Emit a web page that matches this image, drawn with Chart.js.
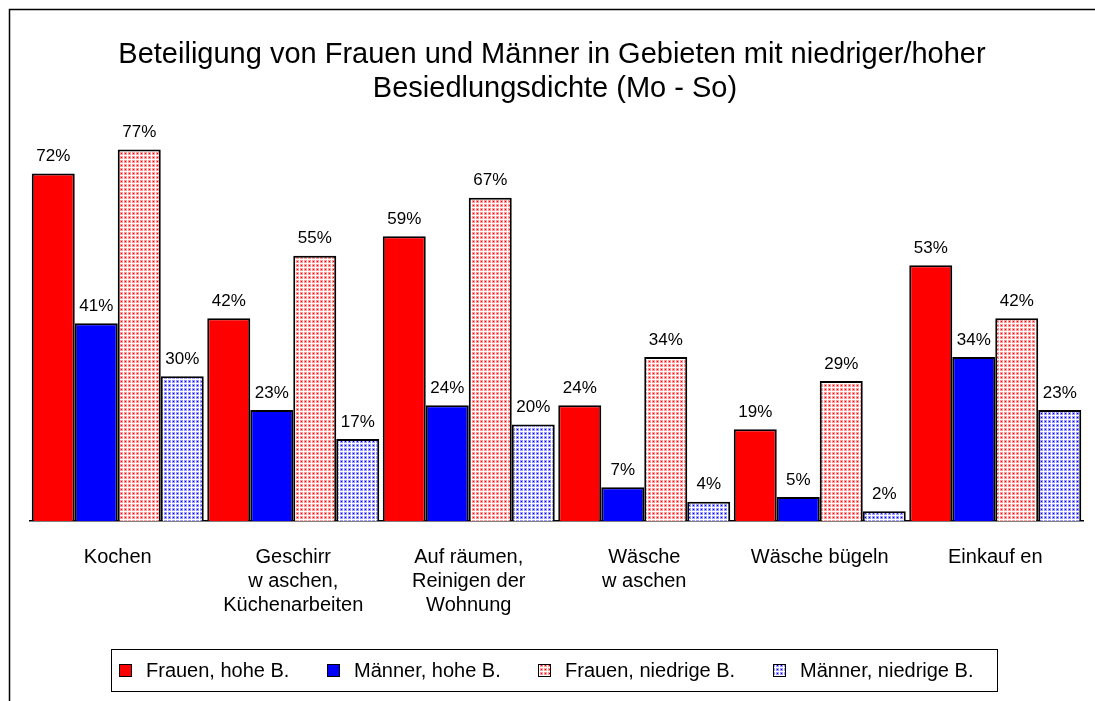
<!DOCTYPE html>
<html>
<head>
<meta charset="utf-8">
<script src="https://cdn.jsdelivr.net/npm/chart.js@4"></script>
<style>
  html, body { margin: 0; padding: 0; background: #fff; }
  canvas { display: block; }
</style>
</head>
<body>
<canvas id="chart" width="1095" height="701"></canvas>
<script>
/* ===== DATA ===== */
const TITLE_LINES = ['Beteiligung von Frauen und Männer in Gebieten mit niedriger/hoher', 'Besiedlungsdichte (Mo - So)'];
const CATEGORIES = [
  ['Kochen'],
  ['Geschirr', 'w aschen,', 'Küchenarbeiten'],
  ['Auf räumen,', 'Reinigen der', 'Wohnung'],
  ['Wäsche', 'w aschen'],
  ['Wäsche bügeln'],
  ['Einkauf en'],
];
const SERIES_NAMES = ['Frauen, hohe B.', 'Männer, hohe B.', 'Frauen, niedrige B.', 'Männer, niedrige B.'];
const FRAUEN_HOCH    = [72, 42, 59, 24, 19, 53];
const MAENNER_HOCH   = [41, 23, 24, 7, 5, 34];
const FRAUEN_NIEDRIG = [77, 55, 67, 34, 29, 42];
const MAENNER_NIEDRIG = [30, 17, 20, 4, 2, 23];

const FONT = "'Liberation Sans', Arial, sans-serif";

/* ===== PATTERNS ===== */
function dotPattern(dot, tint) {
  const c = document.createElement('canvas');
  c.width = 4; c.height = 4;
  const g = c.getContext('2d');
  g.fillStyle = '#ffffff';
  g.fillRect(0, 0, 4, 4);
  g.fillStyle = tint;
  g.fillRect(0, 0, 3, 3);
  g.fillStyle = dot;
  g.fillRect(1, 1, 1, 1);
  return g.createPattern(c, 'repeat');
}
const ctx = document.getElementById('chart').getContext('2d');
const PINK_DOTS = dotPattern('#ff0000', '#ff9a9a');
const BLUE_DOTS = dotPattern('#0000ff', '#9a9aff');

const FILLS = ['#ff0000', '#0000ff', PINK_DOTS, BLUE_DOTS];
const SERIES = [FRAUEN_HOCH, MAENNER_HOCH, FRAUEN_NIEDRIG, MAENNER_NIEDRIG];

/* ===== PLUGINS ===== */
const framePlugin = {
  id: 'frame',
  beforeDraw(chart) {
    const c = chart.ctx;
    c.save();
    c.fillStyle = '#fff';
    c.fillRect(0, 0, chart.width, chart.height);
    c.strokeStyle = '#000';
    c.lineWidth = 1.5;
    c.beginPath();
    c.moveTo(9.5, chart.height);
    c.lineTo(9.5, 9.5);
    c.lineTo(chart.width, 9.5);
    c.stroke();
    c.restore();
  },
};

const titlePlugin = {
  id: 'customTitle',
  afterDraw(chart) {
    const c = chart.ctx;
    c.save();
    c.fillStyle = '#000';
    c.font = `29px ${FONT}`;
    c.textAlign = 'center';
    c.textBaseline = 'alphabetic';
    c.fillText(TITLE_LINES[0], 552, 63);
    c.fillText(TITLE_LINES[1], 555, 97);
    c.restore();
  },
};

const valueLabels = {
  id: 'valueLabels',
  afterDatasetsDraw(chart) {
    const c = chart.ctx;
    c.save();
    c.font = `17px ${FONT}`;
    c.fillStyle = '#000';
    c.textAlign = 'center';
    c.textBaseline = 'middle';
    chart.data.datasets.forEach((ds, i) => {
      chart.getDatasetMeta(i).data.forEach((bar, j) => {
        c.fillText(ds.data[j] + '%', bar.x, bar.y - 17);
      });
    });
    c.restore();
  },
};

const boxedLegend = {
  id: 'boxedLegend',
  afterDraw(chart) {
    const c = chart.ctx;
    const box = { x: 111, y: 649, w: 886, h: 42 };
    const markerX = [119, 327, 538, 773];
    c.save();
    c.strokeStyle = '#000';
    c.lineWidth = 1;
    c.strokeRect(box.x + 0.5, box.y + 0.5, box.w, box.h);
    c.font = `20px ${FONT}`;
    c.textBaseline = 'middle';
    const cy = box.y + box.h / 2;
    chart.data.datasets.forEach((ds, i) => {
      c.fillStyle = ds.backgroundColor;
      c.fillRect(markerX[i], cy - 6, 12, 12);
      c.strokeRect(markerX[i] + 0.5, cy - 6 + 0.5, 12, 12);
      c.fillStyle = '#000';
      c.fillText(ds.label, markerX[i] + 27, cy + 1);
    });
    c.restore();
  },
};

/* ===== CHART ===== */
new Chart(ctx, {
  type: 'bar',
  data: {
    labels: CATEGORIES,
    datasets: SERIES.map((values, i) => ({
      label: SERIES_NAMES[i],
      data: values,
      backgroundColor: FILLS[i],
      borderColor: '#000',
      borderWidth: 2,
      borderSkipped: 'bottom',
      categoryPercentage: 0.98,
      barPercentage: 1,
    })),
  },
  options: {
    responsive: false,
    animation: false,
    devicePixelRatio: 1,
    layout: { padding: { left: 30, right: 12, top: 135, bottom: 0 } },
    plugins: {
      legend: { display: false },
      title: { display: false },
      tooltip: { enabled: false },
    },
    scales: {
      x: {
        grid: { display: false, drawTicks: false },
        border: { display: true, color: '#000', width: 1.5 },
        ticks: {
          color: '#000',
          font: { family: FONT, size: 20 },
          padding: 24,
          maxRotation: 0,
          autoSkip: false,
        },
        afterFit(scale) { scale.height = 180; },
      },
      y: { display: false, min: 0, max: 80 },
    },
  },
  plugins: [framePlugin, titlePlugin, valueLabels, boxedLegend],
});
</script>
</body>
</html>
